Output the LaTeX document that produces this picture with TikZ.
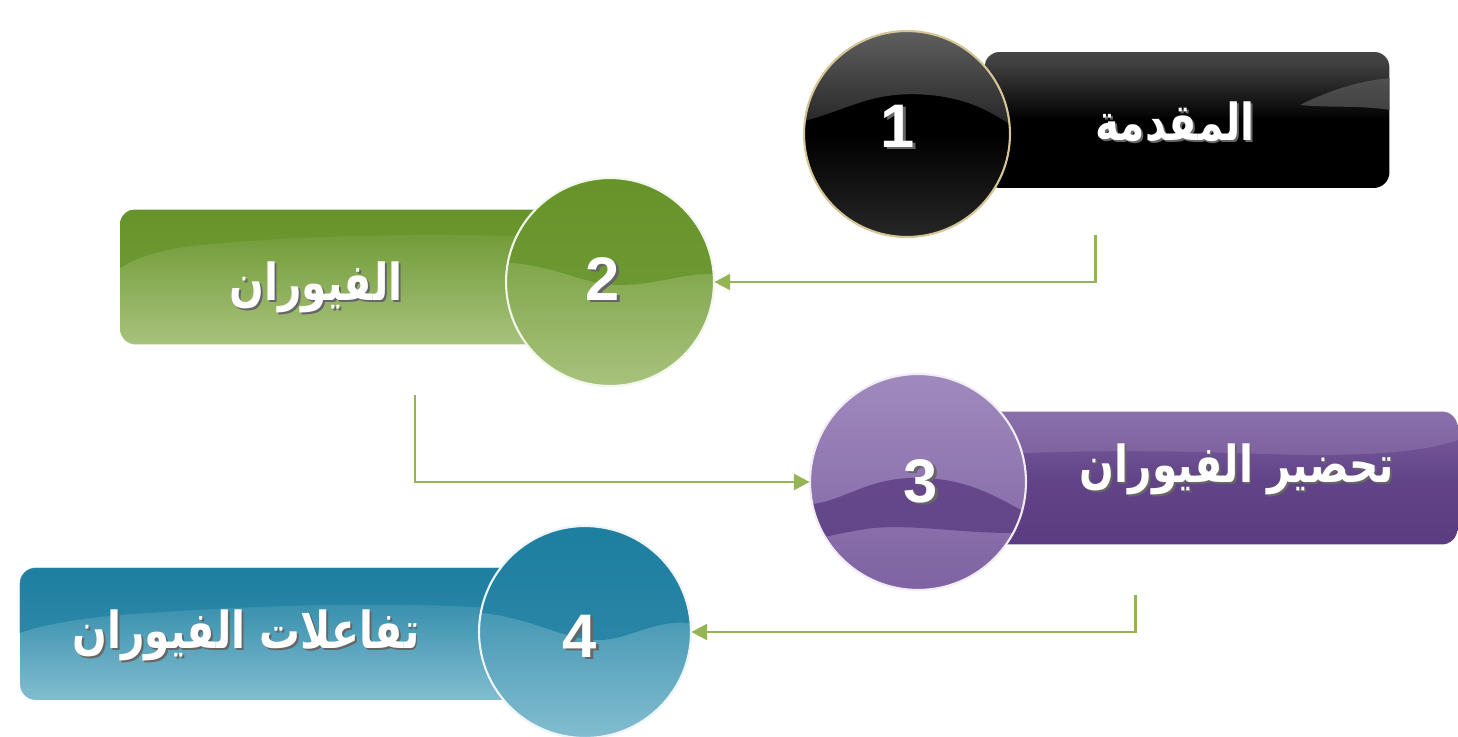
\documentclass[tikz,border=0pt]{standalone}
\usepackage{fontspec}
\setmainfont{Liberation Sans}
\newfontfamily\arabicfont[Script=Arabic]{DejaVu Sans}
\TeXXeTstate=1
\usetikzlibrary{arrows.meta,calc}
\definecolor{connc}{HTML}{94B455}
\definecolor{goldring}{HTML}{D6C696}
\definecolor{gA}{HTML}{66942A}\definecolor{gB}{HTML}{A8C27C}
\definecolor{pA}{HTML}{A08ABD}\definecolor{pB}{HTML}{5B3C82}\definecolor{pR}{HTML}{7E62A2}
\definecolor{tA}{HTML}{1E7FA1}\definecolor{tB}{HTML}{82BDD0}
\newcommand\shtxt[1]{\leavevmode\rlap{\kern1.3pt\raisebox{-1.3pt}{\color{black!60}#1}}#1}
\newcommand\artxt[1]{\scalebox{0.8}[1]{\shtxt{\beginR #1\endR}}}
\tikzset{
  conn/.style={draw=connc, line width=1.7pt, -{Triangle[length=9pt,width=9pt]}},
  barbox/.style={rectangle, rounded corners=9pt, inner sep=0pt},
  disc/.style={circle, inner sep=0pt},
  lbl/.style={text=white, inner sep=0pt, anchor=base, font=\arabicfont\bfseries\fontsize{29}{34}\selectfont},
  num/.style={text=white, inner sep=0pt, anchor=base, font=\bfseries\fontsize{35}{40}\selectfont},
}
\begin{document}
\begin{tikzpicture}[x=0.02cm,y=-0.02cm]
\useasboundingbox (0,0) rectangle (1458,737);
\fill[white] (0,0) rectangle (1458,737);

% ---------- item 1 (black)
\node[barbox, minimum width=8.1cm, minimum height=2.72cm, top color=black!70, bottom color=black, middle color=black] (r1) at (1187,120) {};
\begin{scope}
\clip[rounded corners=9pt] (r1.south west) rectangle (r1.north east);
\fill[black!75, opacity=0.5] (985,52) rectangle (1390,62);
\fill[black!60, opacity=0.6] (1300,105) .. controls (1340,85) and (1370,80) .. (1390,78) -- (1390,110) .. controls (1360,105) and (1330,108) .. (1300,105);
\end{scope}
\node[disc, minimum size=4.12cm, top color=black, bottom color=black!85, middle color=black] (c1) at (907,134) {};
\begin{scope}
\clip (c1) circle[radius=2.06cm];
\shade[top color=black!62, bottom color=black!85] (800,28) -- (1012,28) -- (1012,125) .. controls (1000,120) and (980,100) .. (930,95) .. controls (870,90) and (850,110) .. (800,122) -- cycle;
\end{scope}
\draw[goldring, line width=1.2pt] (c1) circle[radius=2.06cm];
\node[num] (n1) at (898,147) {\shtxt{1}};
\node[lbl] (t1) at (1175,140) {\artxt{المقدمة}};

% ---------- item 2 (green)
\node[barbox, minimum width=8.8cm, minimum height=2.7cm, top color=gA, bottom color=gB] (r2) at (340,277) {};
\begin{scope}
\clip[rounded corners=9pt] (r2.south west) rectangle (r2.north east);
\fill[gA, opacity=0.75] (120,210) -- (560,210) -- (560,238) .. controls (450,232) and (300,235) .. (200,245) .. controls (150,250) and (130,262) .. (120,268) -- cycle;
\end{scope}
\node[disc, minimum size=4.16cm, top color=gA, bottom color=gB] (c2) at (610,282) {};
\begin{scope}
\clip (c2) circle[radius=2.08cm];
\fill[gA, opacity=0.8] (500,175) -- (720,175) -- (720,275) .. controls (690,270) and (660,285) .. (620,285) .. controls (580,285) and (560,265) .. (500,262) -- cycle;
\end{scope}
\draw[white!85!gB, line width=1.2pt] (c2) circle[radius=2.08cm];
\node[num] (n2) at (603,300) {\shtxt{2}};
\node[lbl] (t2) at (316,300) {\artxt{الفيوران}};

% ---------- item 3 (purple)
\node[barbox, minimum width=9.46cm, minimum height=2.66cm, top color=pR, bottom color=pB, middle color=pB!80!pR] (r3) at (1221,478) {};
\begin{scope}
\clip[rounded corners=9pt] (r3.south west) rectangle (r3.north east);
\fill[pA, opacity=0.35] (985,412) -- (1458,412) -- (1458,440) .. controls (1400,460) and (1300,455) .. (1200,452) .. controls (1100,450) and (1040,452) .. (985,455) -- cycle;
\end{scope}
\node[disc, minimum size=4.32cm, top color=pA, bottom color=pR] (c3) at (918,482) {};
\begin{scope}
\clip (c3) circle[radius=2.16cm];
\fill[pB, opacity=0.8] (800,505) .. controls (840,505) and (860,480) .. (910,478) .. controls (970,476) and (1000,500) .. (1040,520) -- (1040,530) .. controls (990,540) and (910,520) .. (860,530) .. controls (830,535) and (810,540) .. (800,545) -- cycle;
\end{scope}
\draw[white!85!pA, line width=1.2pt] (c3) circle[radius=2.16cm];
\node[num] (n3) at (921,502) {\shtxt{3}};
\node[lbl] (t3) at (1237,482) {\artxt{تحضير الفيوران}};

% ---------- item 4 (teal)
\node[barbox, minimum width=10cm, minimum height=2.64cm, top color=tA, bottom color=tB] (r4) at (270,634) {};
\begin{scope}
\clip[rounded corners=9pt] (r4.south west) rectangle (r4.north east);
\fill[tA, opacity=0.7] (5,567) -- (520,567) -- (520,610) .. controls (400,600) and (250,605) .. (120,615) .. controls (60,620) and (20,630) .. (5,640) -- cycle;
\end{scope}
\node[disc, minimum size=4.24cm, top color=tA, bottom color=tB] (c4) at (585,632) {};
\begin{scope}
\clip (c4) circle[radius=2.12cm];
\fill[tA, opacity=0.8] (470,520) -- (700,520) -- (700,625) .. controls (660,615) and (630,640) .. (600,640) .. controls (560,640) and (530,615) .. (470,612) -- cycle;
\end{scope}
\draw[white!85!tB, line width=1.2pt] (c4) circle[radius=2.12cm];
\node[num] (n4) at (580,657) {\shtxt{4}};
\node[lbl] (t4) at (246,648) {\artxt{تفاعلات الفيوران}};

% ---------- connectors
\coordinate (s1) at (1095,235);
\coordinate (s2) at (415,395);
\coordinate (s3) at (1135,595);
\draw[conn] (s1) |- (c2.east);
\draw[conn] (s2) |- (c3.west);
\draw[conn] (s3) |- (c4.east);
\end{tikzpicture}
\end{document}
